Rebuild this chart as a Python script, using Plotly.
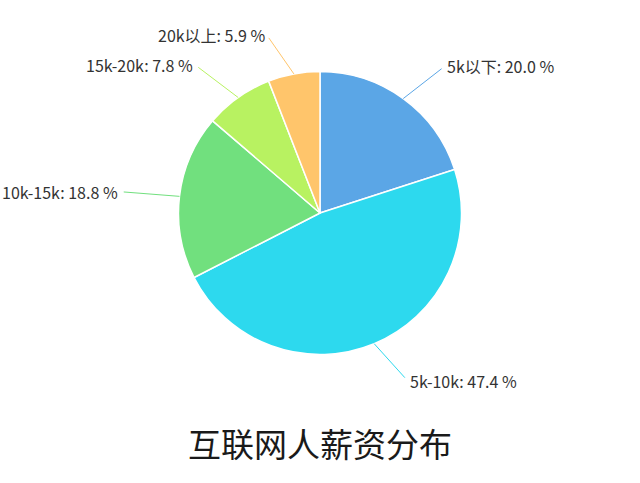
import math
import plotly.graph_objects as go

# data
labels = ["5k以下", "5k-10k", "10k-15k", "15k-20k", "20k以上"]
percents = [20.0, 47.4, 18.8, 7.8, 5.9]
colors = ["#5BA6E6", "#2DD9EE", "#71E07E", "#B8F261", "#FFC56B"]
title_text = "互联网人薪资分布"

W, H = 640, 483
CX, CY, R = 320, 213, 141.5   # pie centre / radius in pixels
LABEL_DIST = 40
FONT = "Microsoft YaHei, Noto Sans CJK SC, sans-serif"

fig = go.Figure(go.Pie(
    labels=labels,
    values=percents,
    sort=False,
    direction="clockwise",
    rotation=0,
    textinfo="none",
    hoverinfo="label+percent",
    marker=dict(colors=colors, line=dict(color="white", width=1.5)),
    domain=dict(x=[0, 1], y=[(H - CY - R) / H, (H - CY + R) / H]),
    showlegend=False,
))

# outside labels with connector lines, placed from the slice mid-angles
total = sum(percents)
annotations = []
cum = 0
for lab, val, col in zip(labels, percents, colors):
    mid = (cum + val / 2) / total * 2 * math.pi
    cum += val
    sx, sy = math.sin(mid), -math.cos(mid)
    hx, hy = CX + R * sx, CY + R * sy
    right = sx >= 0
    tx = CX + (R + LABEL_DIST) * sx + (18 if right else -20)
    ty = CY + (R + LABEL_DIST) * sy
    annotations.append(dict(
        x=hx / W, y=1 - hy / H, xref="paper", yref="paper",
        ax=tx - hx, ay=ty - hy,
        text=f"{lab}: {val:.1f} %",
        showarrow=True, arrowhead=0, arrowwidth=1, arrowcolor=col,
        startstandoff=4,
        xanchor="left" if right else "right", yanchor="middle",
        font=dict(family=FONT, size=16, color="#333333"),
    ))

annotations.append(dict(
    x=0.5, y=1 - 443 / H, xref="paper", yref="paper",
    text=title_text, showarrow=False,
    xanchor="center", yanchor="middle",
    font=dict(family=FONT, size=33, color="#1a1a1a"),
))

fig.update_layout(
    width=W, height=H,
    margin=dict(l=0, r=0, t=0, b=0),
    paper_bgcolor="white",
    plot_bgcolor="white",
    annotations=annotations,
)

fig.write_html(
    "out.html",
    config={"displayModeBar": False},
    post_script="document.body.style.margin='0';",
)
